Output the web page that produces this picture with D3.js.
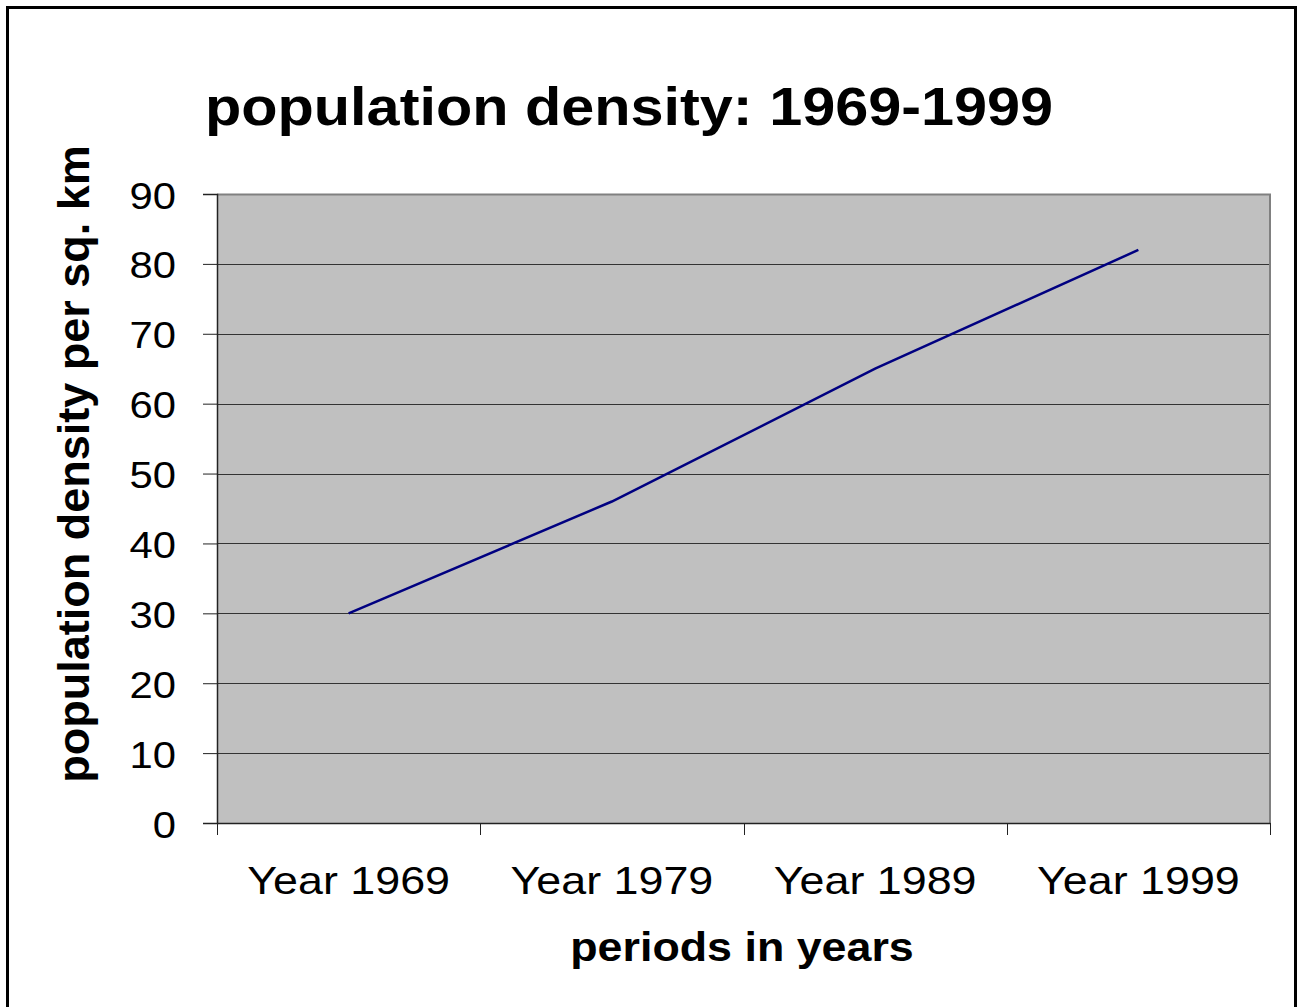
<!DOCTYPE html>
<html>
<head>
<meta charset="utf-8">
<script src="https://cdn.jsdelivr.net/npm/d3@7"></script>
<style>
  html, body { margin: 0; padding: 0; background: #fff; }
  svg { display: block; }
  text { font-family: "Liberation Sans", Arial, Helvetica, sans-serif; fill: #000; }
</style>
</head>
<body>
<svg id="chart" width="1304" height="1007"></svg>
<script>
const categories = ["Year 1969", "Year 1979", "Year 1989", "Year 1999"];
const densityValues = [30, 46, 65, 82];
const yTickValues = [0, 10, 20, 30, 40, 50, 60, 70, 80, 90];
const titleText = "population density: 1969-1999";
const xAxisTitle = "periods in years";
const yAxisTitle = "population density per sq. km";

const svg = d3.select("#chart");
const plot = { left: 217, right: 1270, top: 194, bottom: 823 };
const sx = 1.1; // horizontal text stretch

// outer border
svg.append("rect")
  .attr("x", 7.5).attr("y", 7.5)
  .attr("width", 1288).attr("height", 1010)
  .attr("fill", "#fff").attr("stroke", "#000").attr("stroke-width", 3);

const x = d3.scaleBand().domain(categories).range([plot.left, plot.right]).padding(0);
const y = d3.scaleLinear().domain([0, 90]).range([plot.bottom, plot.top]);

// plot background
svg.append("rect")
  .attr("x", plot.left).attr("y", plot.top)
  .attr("width", plot.right - plot.left).attr("height", plot.bottom - plot.top)
  .attr("fill", "#c0c0c0");

// gridlines
svg.append("g").selectAll("line")
  .data(yTickValues.filter(v => v > 0 && v < 90))
  .join("line")
  .attr("x1", plot.left).attr("x2", plot.right)
  .attr("y1", d => Math.round(y(d)) + 0.5).attr("y2", d => Math.round(y(d)) + 0.5)
  .attr("stroke", "#333").attr("stroke-width", 1);

// plot border (gray top/right)
svg.append("path")
  .attr("d", `M${plot.left},${plot.top + 0.5}H${plot.right}V${plot.bottom}`)
  .attr("fill", "none").attr("stroke", "#808080").attr("stroke-width", 2);

// y axis
const yAxis = svg.append("g")
  .attr("transform", `translate(${plot.left},0)`)
  .call(d3.axisLeft(y).tickValues(yTickValues).tickSize(14).tickPadding(0).tickFormat(d3.format("d")));
yAxis.select(".domain").attr("stroke", "#222").attr("stroke-width", 1.5);
yAxis.selectAll(".tick line").attr("stroke", "#222").attr("stroke-width", 1);
yAxis.selectAll(".tick text").remove();
yAxis.selectAll(".tick").append("text")
  .attr("transform", `translate(-41,14) scale(1.13,1)`)
  .attr("text-anchor", "end")
  .attr("font-size", 37)
  .text(d => d);

// x axis
const xAxis = svg.append("g")
  .attr("transform", `translate(0,${plot.bottom})`)
  .call(d3.axisBottom(x).tickSize(0).tickPadding(0));
xAxis.select(".domain").attr("stroke", "#222").attr("stroke-width", 1.5);
xAxis.selectAll(".tick text").remove();
xAxis.selectAll(".tick").append("text")
  .attr("transform", `translate(0,71) scale(1.15,1)`)
  .attr("text-anchor", "middle")
  .attr("font-size", 39)
  .text(d => d);
// x tick marks at band edges
const edges = [x.range()[0]].concat(categories.map(c => x(c) + x.bandwidth()));
xAxis.append("g").selectAll("line")
  .data(edges)
  .join("line")
  .attr("x1", d => Math.round(d) + 0.5).attr("x2", d => Math.round(d) + 0.5)
  .attr("y1", 0).attr("y2", 12)
  .attr("stroke", "#222").attr("stroke-width", 1);

// data line
const line = d3.line()
  .x((d, i) => x(categories[i]) + x.bandwidth() / 2)
  .y(d => y(d));
svg.append("path")
  .datum(densityValues)
  .attr("d", line)
  .attr("fill", "none")
  .attr("stroke", "#000080")
  .attr("stroke-width", 2.5);

// title
svg.append("text")
  .attr("transform", `translate(205,125) scale(${sx},1)`)
  .attr("font-size", 54)
  .attr("font-weight", "bold")
  .text(titleText);

// x axis title
svg.append("text")
  .attr("transform", `translate(742,961) scale(1.12,1)`)
  .attr("text-anchor", "middle")
  .attr("font-size", 40)
  .attr("font-weight", "bold")
  .text(xAxisTitle);

// y axis title
svg.append("text")
  .attr("transform", `translate(89,464) rotate(-90)`)
  .attr("text-anchor", "middle")
  .attr("font-size", 45)
  .attr("font-weight", "bold")
  .text(yAxisTitle);
</script>
</body>
</html>
